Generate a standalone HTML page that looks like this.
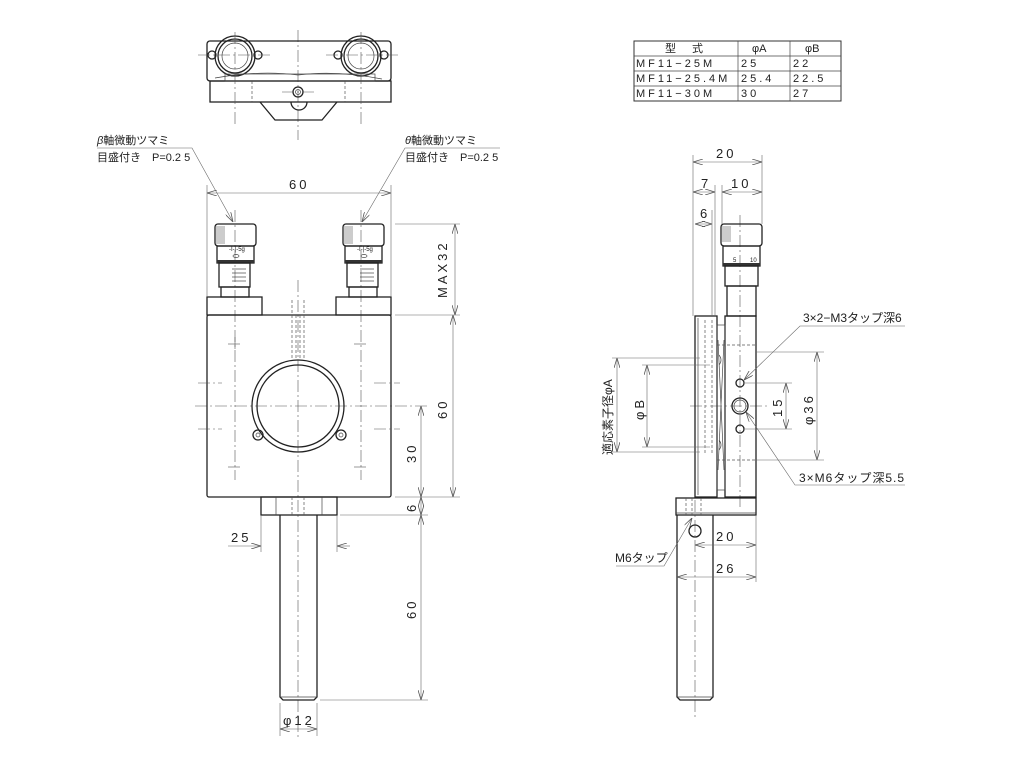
<!DOCTYPE html>
<html><head><meta charset="utf-8"><style>
html,body{margin:0;padding:0;background:#fff;}
svg{display:block;}
text{font-family:"Liberation Sans","Noto Sans CJK JP",sans-serif;fill:#222;}
.o{stroke:#222;stroke-width:1.3;fill:none;}
.t{stroke:#444;stroke-width:0.7;fill:none;}
.c{stroke:#555;stroke-width:0.6;fill:none;stroke-dasharray:12 3 2 3;}
.h{stroke:#555;stroke-width:0.7;fill:none;stroke-dasharray:3 2;}
.d{stroke:#666;stroke-width:0.6;fill:none;}
</style></head><body>
<svg width="1024" height="773" viewBox="0 0 1024 773" xmlns="http://www.w3.org/2000/svg">
<defs>
<marker id="a" viewBox="0 0 10 6" refX="10" refY="3" markerWidth="10" markerHeight="6" orient="auto-start-reverse" markerUnits="userSpaceOnUse"><path d="M0,0 L10,3 L0,6" fill="none" stroke="#555" stroke-width="0.8"/></marker>
</defs>

<!-- TOP VIEW -->
<g>
<line class="c" x1="298" y1="30" x2="298" y2="140"/>
<rect class="o" x="207" y="41" width="184" height="40" rx="3"/>
<rect class="o" x="210" y="81" width="181" height="21"/>
<line class="h" x1="252" y1="81" x2="252" y2="102"/><line class="h" x1="345" y1="81" x2="345" y2="102"/>
<path class="o" d="M260,102 L275,120 L322,120 L337,102"/>
<path class="o" d="M291,102 A8,8 0 0 0 307,102"/>
<circle class="o" cx="298" cy="92" r="5"/><circle class="t" cx="298" cy="92" r="2.5"/>
<line class="c" x1="282" y1="92" x2="314" y2="92"/>
<circle fill="#fff" class="o" cx="235" cy="56" r="20"/><circle class="o" cx="235" cy="56" r="17"/><circle class="t" cx="235" cy="56" r="13"/>
<circle fill="#fff" class="o" cx="361" cy="56" r="20"/><circle class="o" cx="361" cy="56" r="17"/><circle class="t" cx="361" cy="56" r="13"/>
<circle class="o" cx="212" cy="55" r="4"/><circle class="o" cx="258" cy="55" r="4"/>
<circle class="o" cx="338" cy="55" r="4"/><circle class="o" cx="384" cy="55" r="4"/>
<line class="c" x1="198" y1="55" x2="272" y2="55"/><line class="c" x1="326" y1="55" x2="400" y2="55"/>
<line class="c" x1="235" y1="32" x2="235" y2="125"/><line class="c" x1="361" y1="32" x2="361" y2="125"/>
<path class="t" d="M215,78 Q260,70 298,75 Q336,70 382,79"/>
<rect class="t" x="225" y="74" width="150" height="7"/>
</g>

<!-- TABLE -->
<g font-size="11">
<rect x="634" y="41" width="207" height="60" fill="none" stroke="#333" stroke-width="1"/>
<line class="t" x1="634" y1="56" x2="841" y2="56"/><line class="t" x1="634" y1="71" x2="841" y2="71"/><line class="t" x1="634" y1="86" x2="841" y2="86"/>
<line class="t" x1="738" y1="41" x2="738" y2="101"/><line class="t" x1="790" y1="41" x2="790" y2="101"/>
<text x="665" y="52" letter-spacing="16">型式</text>
<text x="752" y="52">φA</text><text x="805" y="52">φB</text>
<text x="636" y="67" letter-spacing="3">MF11−25M</text>
<text x="636" y="82" letter-spacing="3">MF11−25.4M</text>
<text x="636" y="97" letter-spacing="3">MF11−30M</text>
<text x="741" y="67" letter-spacing="3">25</text><text x="741" y="82" letter-spacing="3">25.4</text><text x="741" y="97" letter-spacing="3">30</text>
<text x="793" y="67" letter-spacing="3">22</text><text x="793" y="82" letter-spacing="3">22.5</text><text x="793" y="97" letter-spacing="3">27</text>
</g>

<!-- FRONT VIEW -->
<g>
<line class="c" x1="298" y1="280" x2="298" y2="740"/>
<line class="c" x1="235" y1="210" x2="235" y2="480"/>
<line class="c" x1="361" y1="210" x2="361" y2="480"/>
<line class="c" x1="195" y1="406" x2="430" y2="406"/>
<g id="mic">
<rect class="o" x="215" y="224" width="41" height="22" rx="3"/>
<rect x="216" y="226" width="9" height="18" fill="#999" opacity="0.5"/>
<rect class="o" x="217" y="246" width="37" height="17"/>
<rect x="217" y="260" width="37" height="3" fill="#333"/>
<rect class="o" x="219" y="263" width="31" height="24"/>
<rect class="o" x="221" y="287" width="28" height="10"/>
<line class="t" x1="232" y1="269" x2="246" y2="269"/><line class="t" x1="232" y1="273" x2="246" y2="273"/><line class="t" x1="232" y1="277" x2="246" y2="277"/><line class="t" x1="232" y1="281" x2="246" y2="281"/>
<text x="229" y="251" font-size="6">-I-|-5g</text>
<ellipse class="t" cx="236" cy="256" rx="3" ry="1.5"/>
</g>
<use href="#mic" transform="translate(128,0)"/>
<rect class="o" x="207" y="297" width="55" height="18"/>
<rect class="o" x="336" y="297" width="55" height="18"/>
<rect class="o" x="207" y="315" width="184" height="182" rx="2"/>
<line class="h" x1="292" y1="300" x2="292" y2="360"/><line class="h" x1="304" y1="300" x2="304" y2="360"/>
<line class="h" x1="296" y1="315" x2="296" y2="360"/><line class="h" x1="300" y1="315" x2="300" y2="360"/>
<circle class="o" cx="298" cy="406" r="46"/><circle class="o" cx="298" cy="406" r="41"/>
<circle class="o" cx="258" cy="435" r="5"/><circle class="t" cx="258" cy="435" r="2"/>
<circle class="o" cx="341" cy="435" r="5"/><circle class="t" cx="341" cy="435" r="2"/>
<g class="c">
<line x1="228" y1="344" x2="242" y2="344"/><line x1="235" y1="337" x2="235" y2="351"/>
<line x1="354" y1="344" x2="368" y2="344"/>
<line x1="228" y1="467" x2="242" y2="467"/><line x1="354" y1="467" x2="368" y2="467"/>
<line x1="198" y1="383" x2="222" y2="383"/><line x1="374" y1="383" x2="400" y2="383"/>
<line x1="198" y1="429" x2="222" y2="429"/><line x1="374" y1="429" x2="400" y2="429"/>
</g>
<rect class="o" x="261" y="497" width="76" height="18"/>
<line class="t" x1="276" y1="497" x2="276" y2="515"/><line class="t" x1="322" y1="497" x2="322" y2="515"/>
<line class="h" x1="292" y1="497" x2="292" y2="515"/><line class="h" x1="304" y1="497" x2="304" y2="515"/>
<path class="o" d="M280,515 L280,697 L283,700 L314,700 L317,697 L317,515"/>
<line class="t" x1="280" y1="697" x2="317" y2="697"/>
</g>

<g class="d">
<line x1="207" y1="185" x2="207" y2="297"/><line x1="391" y1="185" x2="391" y2="297"/>
<line x1="207" y1="193" x2="391" y2="193" marker-start="url(#a)" marker-end="url(#a)"/>
<line x1="395" y1="224" x2="460" y2="224"/><line x1="395" y1="315" x2="460" y2="315"/>
<line x1="455" y1="224" x2="455" y2="315" marker-start="url(#a)" marker-end="url(#a)"/>
<line x1="395" y1="497" x2="460" y2="497"/>
<line x1="453" y1="315" x2="453" y2="497" marker-start="url(#a)" marker-end="url(#a)"/>
<line x1="421" y1="406" x2="421" y2="497" marker-start="url(#a)" marker-end="url(#a)"/>
<line x1="340" y1="515" x2="428" y2="515"/>
<line x1="421" y1="497" x2="421" y2="515" marker-start="url(#a)" marker-end="url(#a)"/>
<line x1="320" y1="700" x2="428" y2="700"/>
<line x1="421" y1="515" x2="421" y2="700" marker-start="url(#a)" marker-end="url(#a)"/>
<line x1="261" y1="515" x2="261" y2="552"/><line x1="337" y1="515" x2="337" y2="552"/>
<line x1="228" y1="546" x2="261" y2="546" marker-end="url(#a)"/><line x1="350" y1="546" x2="337" y2="546" marker-end="url(#a)"/>
<line x1="280" y1="703" x2="280" y2="736"/><line x1="317" y1="703" x2="317" y2="736"/>
<line x1="280" y1="729" x2="317" y2="729" marker-start="url(#a)" marker-end="url(#a)"/>
<polyline points="97,148 192,148 233,222" marker-end="url(#a)"/>
<polyline points="500,148 405,148 362,222" marker-end="url(#a)"/>
</g>
<g font-size="13" letter-spacing="3">
<text x="289" y="189">60</text>
<text x="231" y="542">25</text>
<text x="283" y="725">φ12</text>
<text transform="translate(447,298) rotate(-90)">MAX32</text>
<text transform="translate(447,419) rotate(-90)">60</text>
<text transform="translate(416,463) rotate(-90)">30</text>
<text transform="translate(416,512) rotate(-90)">6</text>
<text transform="translate(416,619) rotate(-90)">60</text>
</g>
<g font-size="11">
<text x="97" y="144"><tspan font-style="italic">β</tspan>軸微動ツマミ</text>
<text x="97" y="161">目盛付き　P=0.2 5</text>
<text x="405" y="144"><tspan font-style="italic">θ</tspan>軸微動ツマミ</text>
<text x="405" y="161">目盛付き　P=0.2 5</text>
</g>

<!-- SIDE VIEW -->
<g>
<line class="c" x1="740" y1="215" x2="740" y2="510"/>
<line class="c" x1="695" y1="500" x2="695" y2="720"/>
<line class="c" x1="690" y1="406" x2="770" y2="406"/>
<rect class="o" x="721" y="224" width="41" height="22" rx="3"/>
<rect x="722" y="226" width="9" height="16" fill="#999" opacity="0.5"/>
<rect class="o" x="723" y="246" width="37" height="20"/>
<rect x="723" y="263" width="37" height="3" fill="#333"/>
<text x="733" y="262" font-size="6">5</text><text x="750" y="262" font-size="6">10</text>
<rect class="o" x="725" y="266" width="33" height="20"/>
<rect class="o" x="727" y="286" width="29" height="30"/>
<rect class="o" x="725" y="316" width="31" height="181"/>
<rect class="o" x="695" y="316" width="22" height="181"/>
<line class="t" x1="698" y1="318" x2="698" y2="495"/>
<line class="h" x1="705" y1="320" x2="705" y2="455"/><line class="h" x1="712" y1="320" x2="712" y2="455"/>
<rect class="t" x="717" y="325" width="8" height="165"/>
<path class="t" d="M718,340 L724,470 M724,340 L718,470 M719,355 Q723,360 719,365 M719,440 Q723,445 719,450"/>
<line class="h" x1="717" y1="345" x2="756" y2="345"/><line class="h" x1="717" y1="460" x2="756" y2="460"/>
<circle class="o" cx="740" cy="383" r="4"/>
<circle class="o" cx="740" cy="406" r="8"/><circle class="t" cx="740" cy="406" r="6"/>
<circle class="o" cx="740" cy="429" r="4"/>
<rect class="o" x="676" y="498" width="80" height="17"/>
<line class="t" x1="676" y1="513" x2="756" y2="513"/>
<line class="h" x1="686" y1="498" x2="686" y2="515"/><line class="h" x1="692" y1="498" x2="692" y2="515"/><line class="h" x1="701" y1="498" x2="701" y2="515"/>
<path class="o" d="M677,515 L677,697 L680,700 L710,700 L713,697 L713,515"/>
<line class="t" x1="677" y1="697" x2="713" y2="697"/>
<circle class="o" cx="695" cy="531" r="6"/>
</g>
<g class="d">
<line x1="693" y1="155" x2="693" y2="316"/><line x1="762" y1="155" x2="762" y2="224"/>
<line x1="693" y1="162" x2="762" y2="162" marker-start="url(#a)" marker-end="url(#a)"/>
<line x1="715" y1="185" x2="715" y2="316"/><line x1="722" y1="185" x2="722" y2="224"/>
<line x1="693" y1="192" x2="715" y2="192" marker-start="url(#a)" marker-end="url(#a)"/>
<line x1="722" y1="192" x2="762" y2="192" marker-start="url(#a)" marker-end="url(#a)"/>
<line x1="712" y1="210" x2="712" y2="316"/>
<line x1="695" y1="224" x2="712" y2="224" marker-start="url(#a)" marker-end="url(#a)"/>
<line x1="612" y1="358" x2="700" y2="358"/><line x1="612" y1="452" x2="700" y2="452"/>
<line x1="617" y1="358" x2="617" y2="452" marker-start="url(#a)" marker-end="url(#a)"/>
<line x1="642" y1="365" x2="710" y2="365"/><line x1="642" y1="447" x2="710" y2="447"/>
<line x1="647" y1="365" x2="647" y2="447" marker-start="url(#a)" marker-end="url(#a)"/>
<line x1="745" y1="383" x2="792" y2="383"/><line x1="745" y1="429" x2="792" y2="429"/>
<line x1="786" y1="383" x2="786" y2="429" marker-start="url(#a)" marker-end="url(#a)"/>
<line x1="756" y1="352" x2="824" y2="352"/><line x1="756" y1="460" x2="824" y2="460"/>
<line x1="817" y1="352" x2="817" y2="460" marker-start="url(#a)" marker-end="url(#a)"/>
<line x1="756" y1="515" x2="756" y2="582"/>
<line x1="695" y1="545" x2="756" y2="545" marker-start="url(#a)" marker-end="url(#a)"/>
<line x1="677" y1="577" x2="756" y2="577" marker-start="url(#a)" marker-end="url(#a)"/>
<polyline points="905,326 800,326 744,380" marker-end="url(#a)"/>
<polyline points="905,485 795,485 746,412" marker-end="url(#a)"/>
<polyline points="616,566 664,566 692,518" marker-end="url(#a)"/>
</g>
<g font-size="13" letter-spacing="3">
<text x="716" y="158">20</text>
<text x="701" y="188">7</text>
<text x="731" y="188">10</text>
<text x="700" y="218">6</text>
<text x="716" y="541">20</text>
<text x="716" y="573">26</text>
<text transform="translate(782,417) rotate(-90)">15</text>
<text transform="translate(813,425) rotate(-90)">φ36</text>
<text transform="translate(644,420) rotate(-90)">φB</text>
</g>
<g font-size="12">
<text transform="translate(612,455) rotate(-90)">適応素子径φA</text>
<text x="803" y="322">3×2−M3タップ深6</text>
<text x="799" y="482" letter-spacing="1">3×M6タップ深5.5</text>
<text x="615" y="562">M6タップ</text>
</g>
</svg>
</body></html>
